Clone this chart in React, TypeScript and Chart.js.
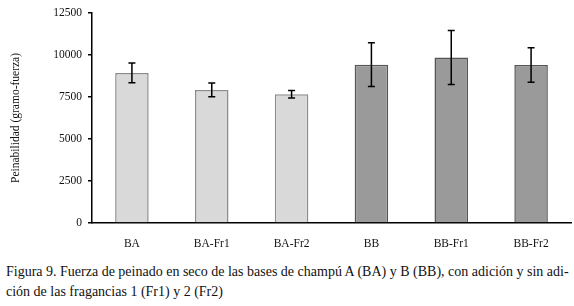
import React, { useEffect, useRef } from "react";
import { Chart, registerables } from "chart.js";

Chart.register(...registerables);

const categories = ["BA", "BA-Fr1", "BA-Fr2", "BB", "BB-Fr1", "BB-Fr2"];
const values = [8930, 7920, 7660, 9420, 9850, 9400];
const errors = [590, 415, 220, 1300, 1610, 1030];
const fillColors = ["#d9d9d9", "#d9d9d9", "#d9d9d9", "#9a9a9a", "#9a9a9a", "#9a9a9a"];
const borderColors = ["#8c8c8c", "#8c8c8c", "#8c8c8c", "#555555", "#555555", "#555555"];
const yTicks = [0, 2500, 5000, 7500, 10000, 12500];
const yTitle = "Peinabilidad (gramo-fuerza)";
const captionLine1 = "Figura 9. Fuerza de peinado en seco de las bases de champú A (BA) y B (BB), con adición y sin adi-";
const captionLine2 = "ción de las fragancias 1 (Fr1) y 2 (Fr2)";

const SERIF = "'Liberation Serif', 'DejaVu Serif', serif";

const errorBarPlugin = {
  id: "errorBars",
  afterDatasetsDraw(chart: any) {
    const ctx = chart.ctx;
    const meta = chart.getDatasetMeta(0);
    const yScale = chart.scales.y;
    ctx.save();
    ctx.strokeStyle = "#000";
    ctx.lineWidth = 1.5;
    meta.data.forEach((el: any, i: number) => {
      const x = el.x;
      const yTop = yScale.getPixelForValue(values[i] + errors[i]);
      const yBot = yScale.getPixelForValue(values[i] - errors[i]);
      ctx.beginPath();
      ctx.moveTo(x, yTop);
      ctx.lineTo(x, yBot);
      ctx.moveTo(x - 3.5, yTop);
      ctx.lineTo(x + 3.5, yTop);
      ctx.moveTo(x - 3.5, yBot);
      ctx.lineTo(x + 3.5, yBot);
      ctx.stroke();
    });
    ctx.restore();
  },
};

export default function App() {
  const ref = useRef<HTMLCanvasElement>(null);
  useEffect(() => {
    const chart = new Chart(ref.current!, {
      type: "bar",
      data: {
        labels: categories,
        datasets: [
          {
            data: values,
            backgroundColor: fillColors,
            borderColor: borderColors,
            borderWidth: 1.5,
            barPercentage: 0.84,
            categoryPercentage: 0.5,
          },
        ],
      },
      options: {
        animation: false,
        responsive: false,
        maintainAspectRatio: false,
        layout: { padding: { top: 12, right: 3, left: 0, bottom: 0 } },
        plugins: { legend: { display: false }, tooltip: { enabled: false } },
        scales: {
          x: {
            grid: { display: false },
            border: { display: true, color: "#000", width: 1.5 },
            ticks: { color: "#111", font: { family: SERIF, size: 11.5 }, padding: 6 },
            afterFit: (s: any) => { s.height = 32; },
          },
          y: {
            min: 0,
            max: 12500,
            afterBuildTicks: (s: any) => { s.ticks = yTicks.map((v) => ({ value: v })); },
            grid: { drawOnChartArea: false, drawTicks: true, tickLength: 4, color: "#000", lineWidth: 1.5 },
            border: { display: true, color: "#000", width: 1.5 },
            ticks: {
              color: "#111",
              font: { family: SERIF, size: 11.5 },
              padding: 6,
              callback: (v: any) => String(v),
            },
            title: { display: true, text: yTitle, color: "#111", font: { family: SERIF, size: 11.5 }, padding: { top: 9, bottom: 0 } },
            afterFit: (s: any) => { s.width = 92; },
          },
        },
      },
      plugins: [errorBarPlugin],
    });
    return () => chart.destroy();
  }, []);

  return (
    <div style={{ position: "absolute", left: 0, top: 0, width: 574, height: 306, background: "#fff" }}>
      <canvas ref={ref} width={574} height={255} style={{ display: "block", width: 574, height: 255 }} />
      <div
        style={{
          position: "absolute",
          left: 6,
          top: 262,
          fontFamily: SERIF,
          fontSize: 14,
          lineHeight: "20px",
          color: "#111",
          whiteSpace: "nowrap",
        }}
      >
        <div>{captionLine1}</div>
        <div>{captionLine2}</div>
      </div>
    </div>
  );
}
